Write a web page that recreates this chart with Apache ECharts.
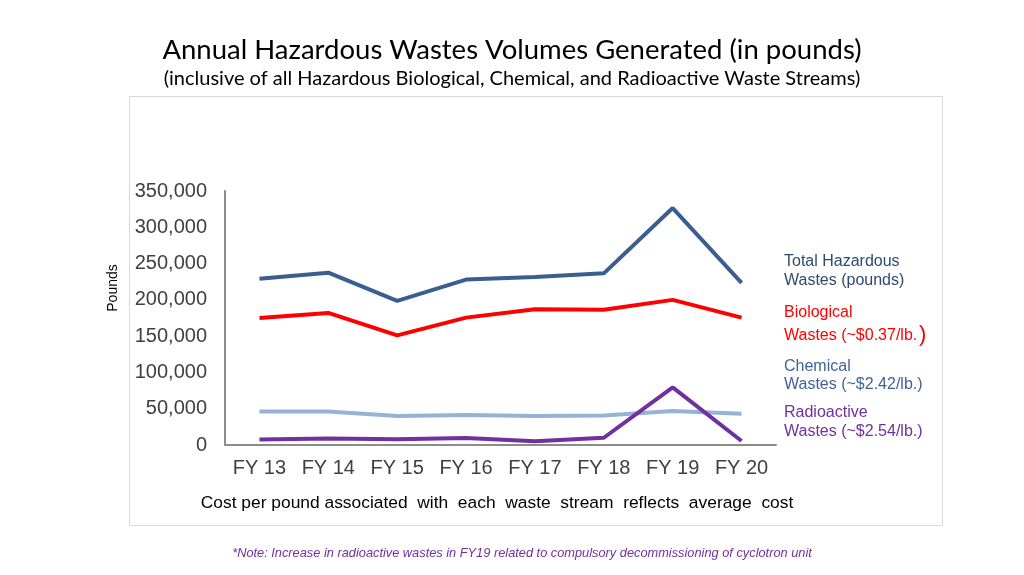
<!DOCTYPE html>
<html><head><meta charset="utf-8">
<script src="https://cdn.jsdelivr.net/npm/echarts@6/dist/echarts.min.js"></script>
<style>html,body{margin:0;padding:0;background:#fff}#c{width:1024px;height:575px}</style>
</head><body><div id="c"></div>
<script>
const categories = ['FY 13','FY 14','FY 15','FY 16','FY 17','FY 18','FY 19','FY 20'];
const totalWastes = [229000, 237500, 198500, 228000, 231500, 236500, 326500, 223500];
const biologicalWastes = [175000, 182000, 151000, 175500, 187000, 186500, 200000, 175500];
const chemicalWastes = [46000, 46000, 40000, 41500, 40000, 40500, 47000, 43000];
const radioactiveWastes = [7500, 9000, 8000, 9500, 5000, 10000, 79500, 5500];
const legendLines = [
  ['Total Hazardous', 'Wastes (pounds)'],
  ['Biological', 'Wastes (~$0.37/lb.'],
  ['Chemical', 'Wastes (~$2.42/lb.)'],
  ['Radioactive', 'Wastes (~$2.54/lb.)']
];
const colors = ['#3A5F8F', '#FF0000', '#95B3D7', '#7030A0'];
const textColors = ['#2F4A70', '#FF0000', '#3F6397', '#7030A0'];
const legendY = [262, 313, 367, 413];
const legendY2 = [281, 336, 385, 432];

const chart = echarts.init(document.getElementById('c'));
const lf = '16px "Liberation Sans", Arial, sans-serif';
const graphics = [
  {type:'rect', shape:{x:129.5, y:96.5, width:813, height:429}, style:{fill:'none', stroke:'#D9D9D9', lineWidth:1}, z:-1},
  {type:'text', x:512, y:50, style:{text:'Annual Hazardous Wastes Volumes Generated (in pounds)', font:'27.5px Lato, "Open Sans", sans-serif', fill:'#000', textAlign:'center', textVerticalAlign:'middle'}},
  {type:'text', x:512, y:79, style:{text:'(inclusive of all Hazardous Biological, Chemical, and Radioactive Waste Streams)', font:'20px Lato, "Open Sans", sans-serif', fill:'#000', textAlign:'center', textVerticalAlign:'middle'}},
  {type:'text', x:113, y:288, rotation:Math.PI/2, style:{text:'Pounds', font:'14px "Liberation Sans", Arial, sans-serif', fill:'#000', textAlign:'center', textVerticalAlign:'middle'}},
  {type:'text', x:497, y:503, style:{text:'Cost per pound associated  with  each  waste  stream  reflects  average  cost', font:'17.4px "Liberation Sans", Arial, sans-serif', fill:'#000', textAlign:'center', textVerticalAlign:'middle'}},
  {type:'text', x:522, y:553, style:{text:'*Note: Increase in radioactive wastes in FY19 related to compulsory decommissioning of cyclotron unit', font:'italic 12.8px "Liberation Sans", Arial, sans-serif', fill:'#7030A0', textAlign:'center', textVerticalAlign:'middle'}}
];
legendLines.forEach((l, i) => {
  graphics.push({type:'text', x:784, y:legendY[i], style:{text:l[0], font:lf, fill:textColors[i], textVerticalAlign:'middle'}});
  graphics.push({type:'text', x:784, y:legendY2[i], style:{text:l[1], font:lf, fill:textColors[i], textVerticalAlign:'middle'}});
});
graphics.push({type:'text', x:919, y:335, style:{text:')', font:'22px "Liberation Sans", Arial, sans-serif', fill:'#FF0000', textVerticalAlign:'middle'}});

const seriesData = [totalWastes, biologicalWastes, chemicalWastes, radioactiveWastes];
const names = ['Total Hazardous Wastes (pounds)', 'Biological Wastes', 'Chemical Wastes', 'Radioactive Wastes'];
chart.setOption({
  animation:false,
  grid:{left:225, right:248, top:191, bottom:130},
  xAxis:{type:'category', data:categories, boundaryGap:true,
    axisLine:{lineStyle:{color:'#8C8C8C', width:2}}, axisTick:{show:false},
    axisLabel:{color:'#404040', fontSize:20, fontFamily:'"Liberation Sans", Arial, sans-serif', margin:13, interval:0}},
  yAxis:{type:'value', min:0, max:350000, interval:50000,
    axisLine:{show:true, lineStyle:{color:'#8C8C8C', width:2}}, axisTick:{show:false}, splitLine:{show:false},
    axisLabel:{color:'#404040', fontSize:20, fontFamily:'"Liberation Sans", Arial, sans-serif', margin:18,
      formatter: v => v.toLocaleString('en-US')}},
  series: seriesData.map((d, i) => ({name:names[i], type:'line', data:d, symbol:'none',
    lineStyle:{color:colors[i], width:4}, itemStyle:{color:colors[i]}, z: i===0?4:(i===1?3:(i===3?2:1))})),
  graphic: graphics
});
</script></body></html>
